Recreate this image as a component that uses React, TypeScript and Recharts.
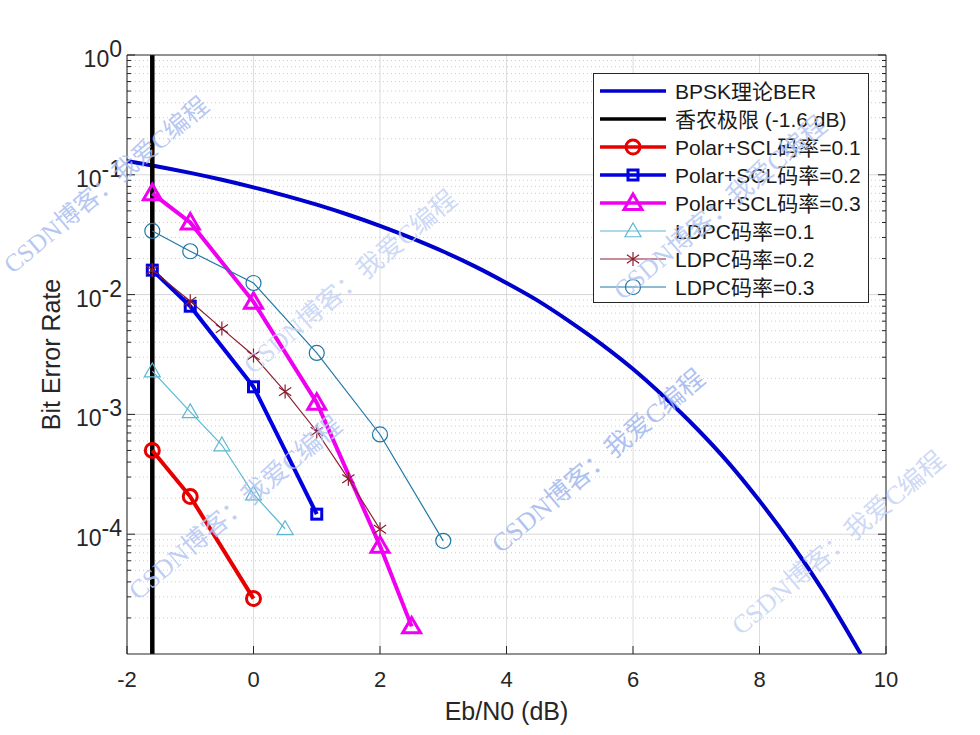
import {
  CartesianGrid,
  Legend,
  Line,
  LineChart,
  ReferenceLine,
  XAxis,
  YAxis,
} from "recharts";

const X_TICKS = [-2, 0, 2, 4, 6, 8, 10];
const DECADES = [1e-4, 1e-3, 1e-2, 1e-1, 1];
const MINOR_STEPS = [2, 3, 4, 5, 6, 7, 8, 9];
const MINOR_TICKS = [1e-5, 1e-4, 1e-3, 1e-2, 1e-1].flatMap((d) =>
  MINOR_STEPS.map((m) => d * m)
);
const Y_TICKS = [...MINOR_TICKS, ...DECADES].sort((a, b) => a - b);

const bpskX = [-2, -1.6, -1, -0.5, 0, 0.5, 1, 1.5, 2, 2.5, 3, 3.5, 4, 4.5, 5, 5.5, 6, 6.5, 7, 7.5, 8, 8.5, 9, 9.6];
const bpskY = [
  0.1306, 0.1197, 0.1037, 0.0909, 0.0786, 0.0671, 0.0563, 0.0464, 0.0375, 0.0296, 0.0229, 0.0172,
  0.0125, 0.00886, 0.00595, 0.00386, 0.00239, 0.00139, 0.00077, 0.0004, 0.00019, 0.000084, 0.000034, 0.00001,
];
const shannonX = [-1.6, -1.6];
const shannonY = [0.00001, 1];
const polar1X = [-1.6, -1, 0];
const polar1Y = [0.0005, 0.000206, 0.000029];
const polar2X = [-1.6, -1, 0, 1];
const polar2Y = [0.016, 0.008, 0.0017, 0.000147];
const polar3X = [-1.6, -1, 0, 1, 2, 2.5];
const polar3Y = [0.07, 0.04, 0.0087, 0.00125, 0.00008, 0.000017];
const ldpc1X = [-1.6, -1, -0.5, 0, 0.5];
const ldpc1Y = [0.0023, 0.00105, 0.000555, 0.000216, 0.000111];
const ldpc2X = [-1.6, -1, -0.5, 0, 0.5, 1, 1.5, 2];
const ldpc2Y = [0.016, 0.0088, 0.0052, 0.0031, 0.00155, 0.00072, 0.00029, 0.00011];
const ldpc3X = [-1.6, -1, 0, 1, 2, 3];
const ldpc3Y = [0.034, 0.023, 0.0125, 0.00326, 0.00068, 0.000088];

const zip = (xs: number[], ys: number[]) => xs.map((x, i) => ({ x, y: ys[i] }));

const SERIES = [
  { name: "BPSK理论BER", data: zip(bpskX, bpskY), color: "#0000cc", width: 4, marker: "none", size: 0, curve: "monotone" },
  { name: "香农极限 (-1.6 dB)", data: zip(shannonX, shannonY), color: "#000000", width: 4.5, marker: "none", size: 0, curve: "linear" },
  { name: "Polar+SCL码率=0.1", data: zip(polar1X, polar1Y), color: "#e60000", width: 4, marker: "circle", size: 7, curve: "linear" },
  { name: "Polar+SCL码率=0.2", data: zip(polar2X, polar2Y), color: "#0000e0", width: 4, marker: "square", size: 5, curve: "linear" },
  { name: "Polar+SCL码率=0.3", data: zip(polar3X, polar3Y), color: "#f000f0", width: 4, marker: "triangle", size: 9, curve: "linear" },
  { name: "LDPC码率=0.1", data: zip(ldpc1X, ldpc1Y), color: "#5cb8d2", width: 1.2, marker: "triangle", size: 8, curve: "linear" },
  { name: "LDPC码率=0.2", data: zip(ldpc2X, ldpc2Y), color: "#8c1c30", width: 1.2, marker: "star", size: 7, curve: "linear" },
  { name: "LDPC码率=0.3", data: zip(ldpc3X, ldpc3Y), color: "#1f78a6", width: 1.2, marker: "circle", size: 7.5, curve: "linear" },
];

const WATERMARKS = [
  { cx: 108, cy: 187, size: 25, fill: "#a9bdf0" },
  { cx: 352, cy: 284, size: 26, fill: "#c6d3f5" },
  { cx: 722, cy: 210, size: 26, fill: "#b3c5f2" },
  { cx: 237, cy: 510, size: 26, fill: "#b3c5f2" },
  { cx: 600, cy: 463, size: 26, fill: "#a0b6ee" },
  { cx: 840, cy: 545, size: 26, fill: "#c6d3f5" },
];

const FONT = '"Liberation Sans", "Noto Sans CJK SC", sans-serif';
const AXIS = "#262626";

function Marker({ kind, x, y, size, color, width }: any) {
  if (kind === "circle") {
    return <circle cx={x} cy={y} r={size} fill="none" stroke={color} strokeWidth={width} />;
  }
  if (kind === "square") {
    return <rect x={x - size} y={y - size} width={size * 2} height={size * 2} fill="none" stroke={color} strokeWidth={width} />;
  }
  if (kind === "triangle") {
    return (
      <polygon
        points={`${x},${y - size} ${x + size},${y + size * 0.72} ${x - size},${y + size * 0.72}`}
        fill="none"
        stroke={color}
        strokeWidth={width}
      />
    );
  }
  if (kind === "star") {
    const dx = size * 0.87;
    const dy = size * 0.6;
    return (
      <path
        d={`M${x},${y - size}V${y + size}M${x - dx},${y - dy}L${x + dx},${y + dy}M${x - dx},${y + dy}L${x + dx},${y - dy}`}
        stroke={color}
        strokeWidth={width}
      />
    );
  }
  return null;
}

const isDecade = (v: number) => Math.abs(Math.log10(v) - Math.round(Math.log10(v))) < 1e-6;

function LeftTick({ x, y, payload }: any) {
  const major = isDecade(payload.value);
  const exp = Math.round(Math.log10(payload.value));
  return (
    <g>
      <line x1={x} x2={x + (major ? 8 : 4)} y1={y} y2={y} stroke={AXIS} />
      {major && (
        <text x={x - 5} y={y + 12} textAnchor="end" fontSize={23} fill={AXIS} fontFamily={FONT}>
          10
          <tspan dy={-10}>{exp === 0 ? "0" : exp}</tspan>
        </text>
      )}
    </g>
  );
}

function RightTick({ x, y, payload }: any) {
  const major = isDecade(payload.value);
  return <line x1={x} x2={x - (major ? 8 : 4)} y1={y} y2={y} stroke={AXIS} />;
}

function BottomTick({ x, y, payload }: any) {
  return (
    <g>
      <line x1={x} x2={x} y1={y} y2={y - 8} stroke={AXIS} />
      <text x={x} y={y + 33} textAnchor="middle" fontSize={22} fill={AXIS} fontFamily={FONT}>
        {payload.value}
      </text>
    </g>
  );
}

function TopTick({ x, y }: any) {
  return <line x1={x} x2={x} y1={y} y2={y + 8} stroke={AXIS} />;
}

function LegendBox() {
  return (
    <svg width={276} height={230} style={{ display: "block" }}>
      <rect x={0.5} y={0.5} width={275} height={229} fill="#ffffff" stroke={AXIS} />
      {SERIES.map((s, i) => {
        const y = 18 + i * 28;
        return (
          <g key={s.name}>
            <line x1={7} x2={73} y1={y} y2={y} stroke={s.color} strokeWidth={s.width > 2 ? 3.5 : 1.2} />
            <Marker
              kind={s.marker}
              x={40}
              y={y}
              size={s.size}
              color={s.color}
              width={s.width > 2 ? 3 : 1.2}
            />
            <text x={82} y={y + 8} fontSize={21} fill="#1a1a1a" fontFamily={FONT}>
              {s.name}
            </text>
          </g>
        );
      })}
    </svg>
  );
}

export default function App() {
  return (
    <div style={{ position: "absolute", left: 0, top: 0, width: 980, height: 735, background: "#fff" }}>
      <LineChart width={980} height={735} margin={{ top: 0, right: 0, bottom: 0, left: 0 }}>
        <CartesianGrid horizontal={false} stroke="#dcdcdc" syncWithTicks />
        {MINOR_TICKS.map((v) => (
          <ReferenceLine key={v} y={v} stroke="#cccccc" strokeDasharray="1 3" />
        ))}
        {DECADES.slice(0, 4).map((v) => (
          <ReferenceLine key={v} y={v} stroke="#d6d6d6" />
        ))}
        <XAxis
          dataKey="x"
          type="number"
          domain={[-2, 10]}
          ticks={X_TICKS}
          interval={0}
          height={81}
          stroke={AXIS}
          tickLine={false}
          tickSize={0}
          tickMargin={0}
          tick={<BottomTick />}
          allowDataOverflow
          label={{ value: "Eb/N0 (dB)", position: "insideBottom", offset: 15, fontSize: 25, fill: AXIS, fontFamily: FONT }}
        />
        <XAxis
          xAxisId="top"
          orientation="top"
          dataKey="x"
          type="number"
          domain={[-2, 10]}
          ticks={X_TICKS}
          interval={0}
          height={55}
          stroke={AXIS}
          tickLine={false}
          tickSize={0}
          tickMargin={0}
          tick={<TopTick />}
        />
        <YAxis
          dataKey="y"
          type="number"
          scale="log"
          domain={[1e-5, 1]}
          ticks={Y_TICKS}
          interval={0}
          width={127}
          stroke={AXIS}
          tickLine={false}
          tickSize={0}
          tickMargin={0}
          tick={<LeftTick />}
          allowDataOverflow
          label={{ value: "Bit Error Rate", angle: -90, position: "insideLeft", offset: 51, fontSize: 25, fill: AXIS, fontFamily: FONT, style: { textAnchor: "middle" } }}
        />
        <YAxis
          yAxisId="right"
          orientation="right"
          type="number"
          scale="log"
          domain={[1e-5, 1]}
          ticks={Y_TICKS}
          interval={0}
          width={94}
          stroke={AXIS}
          tickLine={false}
          tickSize={0}
          tickMargin={0}
          tick={<RightTick />}
          allowDataOverflow
        />
        {SERIES.map((s) => (
          <Line
            key={s.name}
            data={s.data}
            dataKey="y"
            name={s.name}
            type={s.curve as any}
            stroke={s.color}
            strokeWidth={s.width}
            isAnimationActive={false}
            dot={
              s.marker === "none"
                ? false
                : (p: any) => (
                    <Marker
                      key={p.index}
                      kind={s.marker}
                      x={p.cx}
                      y={p.cy}
                      size={s.size}
                      color={s.color}
                      width={s.width > 2 ? 3 : 1.2}
                    />
                  )
            }
            activeDot={false}
          />
        ))}
        <Legend
          layout="vertical"
          align="center"
          verticalAlign="middle"
          content={() => <LegendBox />}
          wrapperStyle={{ left: 593, top: 73, width: 276, height: 230 }}
        />
      </LineChart>
      <svg width={980} height={735} style={{ position: "absolute", left: 0, top: 0, pointerEvents: "none" }}>
        {WATERMARKS.map((w) => (
          <text
            key={`${w.cx}-${w.cy}`}
            x={w.cx}
            y={w.cy}
            textAnchor="middle"
            dominantBaseline="middle"
            fontSize={w.size}
            fill={w.fill}
            fillOpacity={0.85}
            fontFamily='"Liberation Serif", "Noto Sans CJK SC", serif'
            transform={`rotate(-40 ${w.cx} ${w.cy})`}
          >
            CSDN博客：我爱C编程
          </text>
        ))}
      </svg>
    </div>
  );
}
